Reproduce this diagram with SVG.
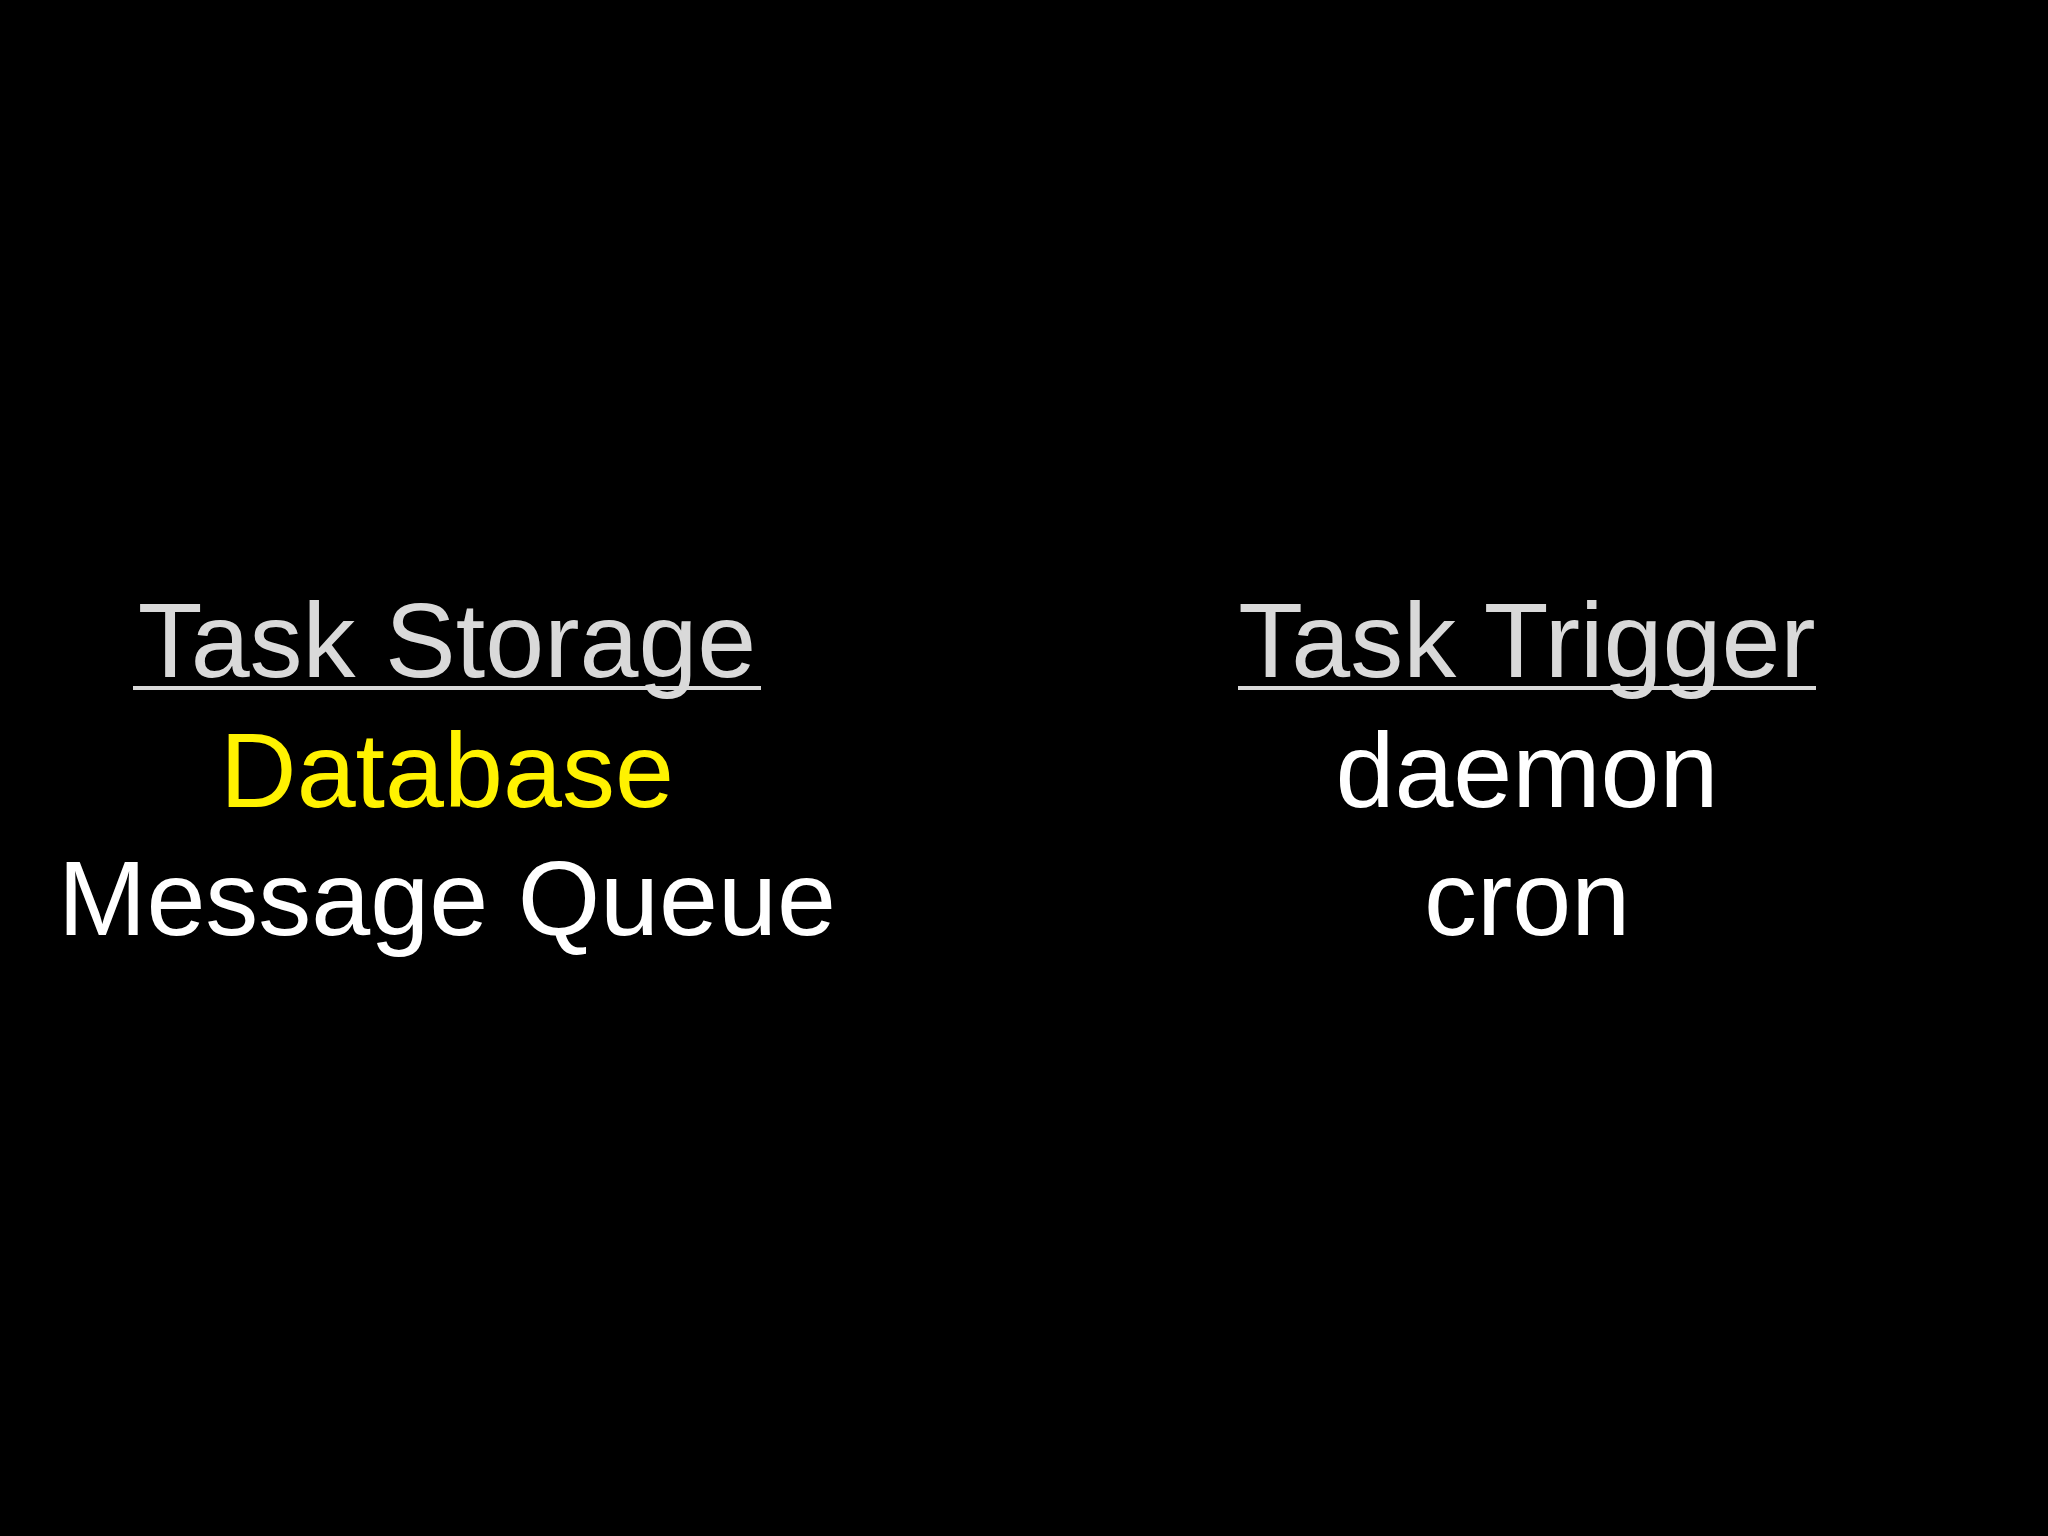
<svg xmlns="http://www.w3.org/2000/svg" width="2048" height="1536" viewBox="0 0 2048 1536">
<style>
text{font-family:"Liberation Sans",Arial,sans-serif;font-size:106px;text-anchor:middle}
.h{fill:#d9d9d9}
.w{fill:#ffffff}
.y{fill:#fff200}
.u{stroke:#d9d9d9;stroke-width:4}
</style>
<rect width="2048" height="1536" fill="#000"/>
<g id="storage">
<text class="h" x="447" y="677">Task Storage</text>
<line class="u" x1="133" y1="688" x2="761" y2="688"/>
<text class="y" x="447" y="807">Database</text>
<text class="w" x="447" y="935">Message Queue</text>
</g>
<g id="trigger">
<text class="h" x="1527" y="677">Task Trigger</text>
<line class="u" x1="1238" y1="688" x2="1816" y2="688"/>
<text class="w" x="1527" y="807">daemon</text>
<text class="w" x="1527" y="935">cron</text>
</g>
<g id="connectors"/>
</svg>
